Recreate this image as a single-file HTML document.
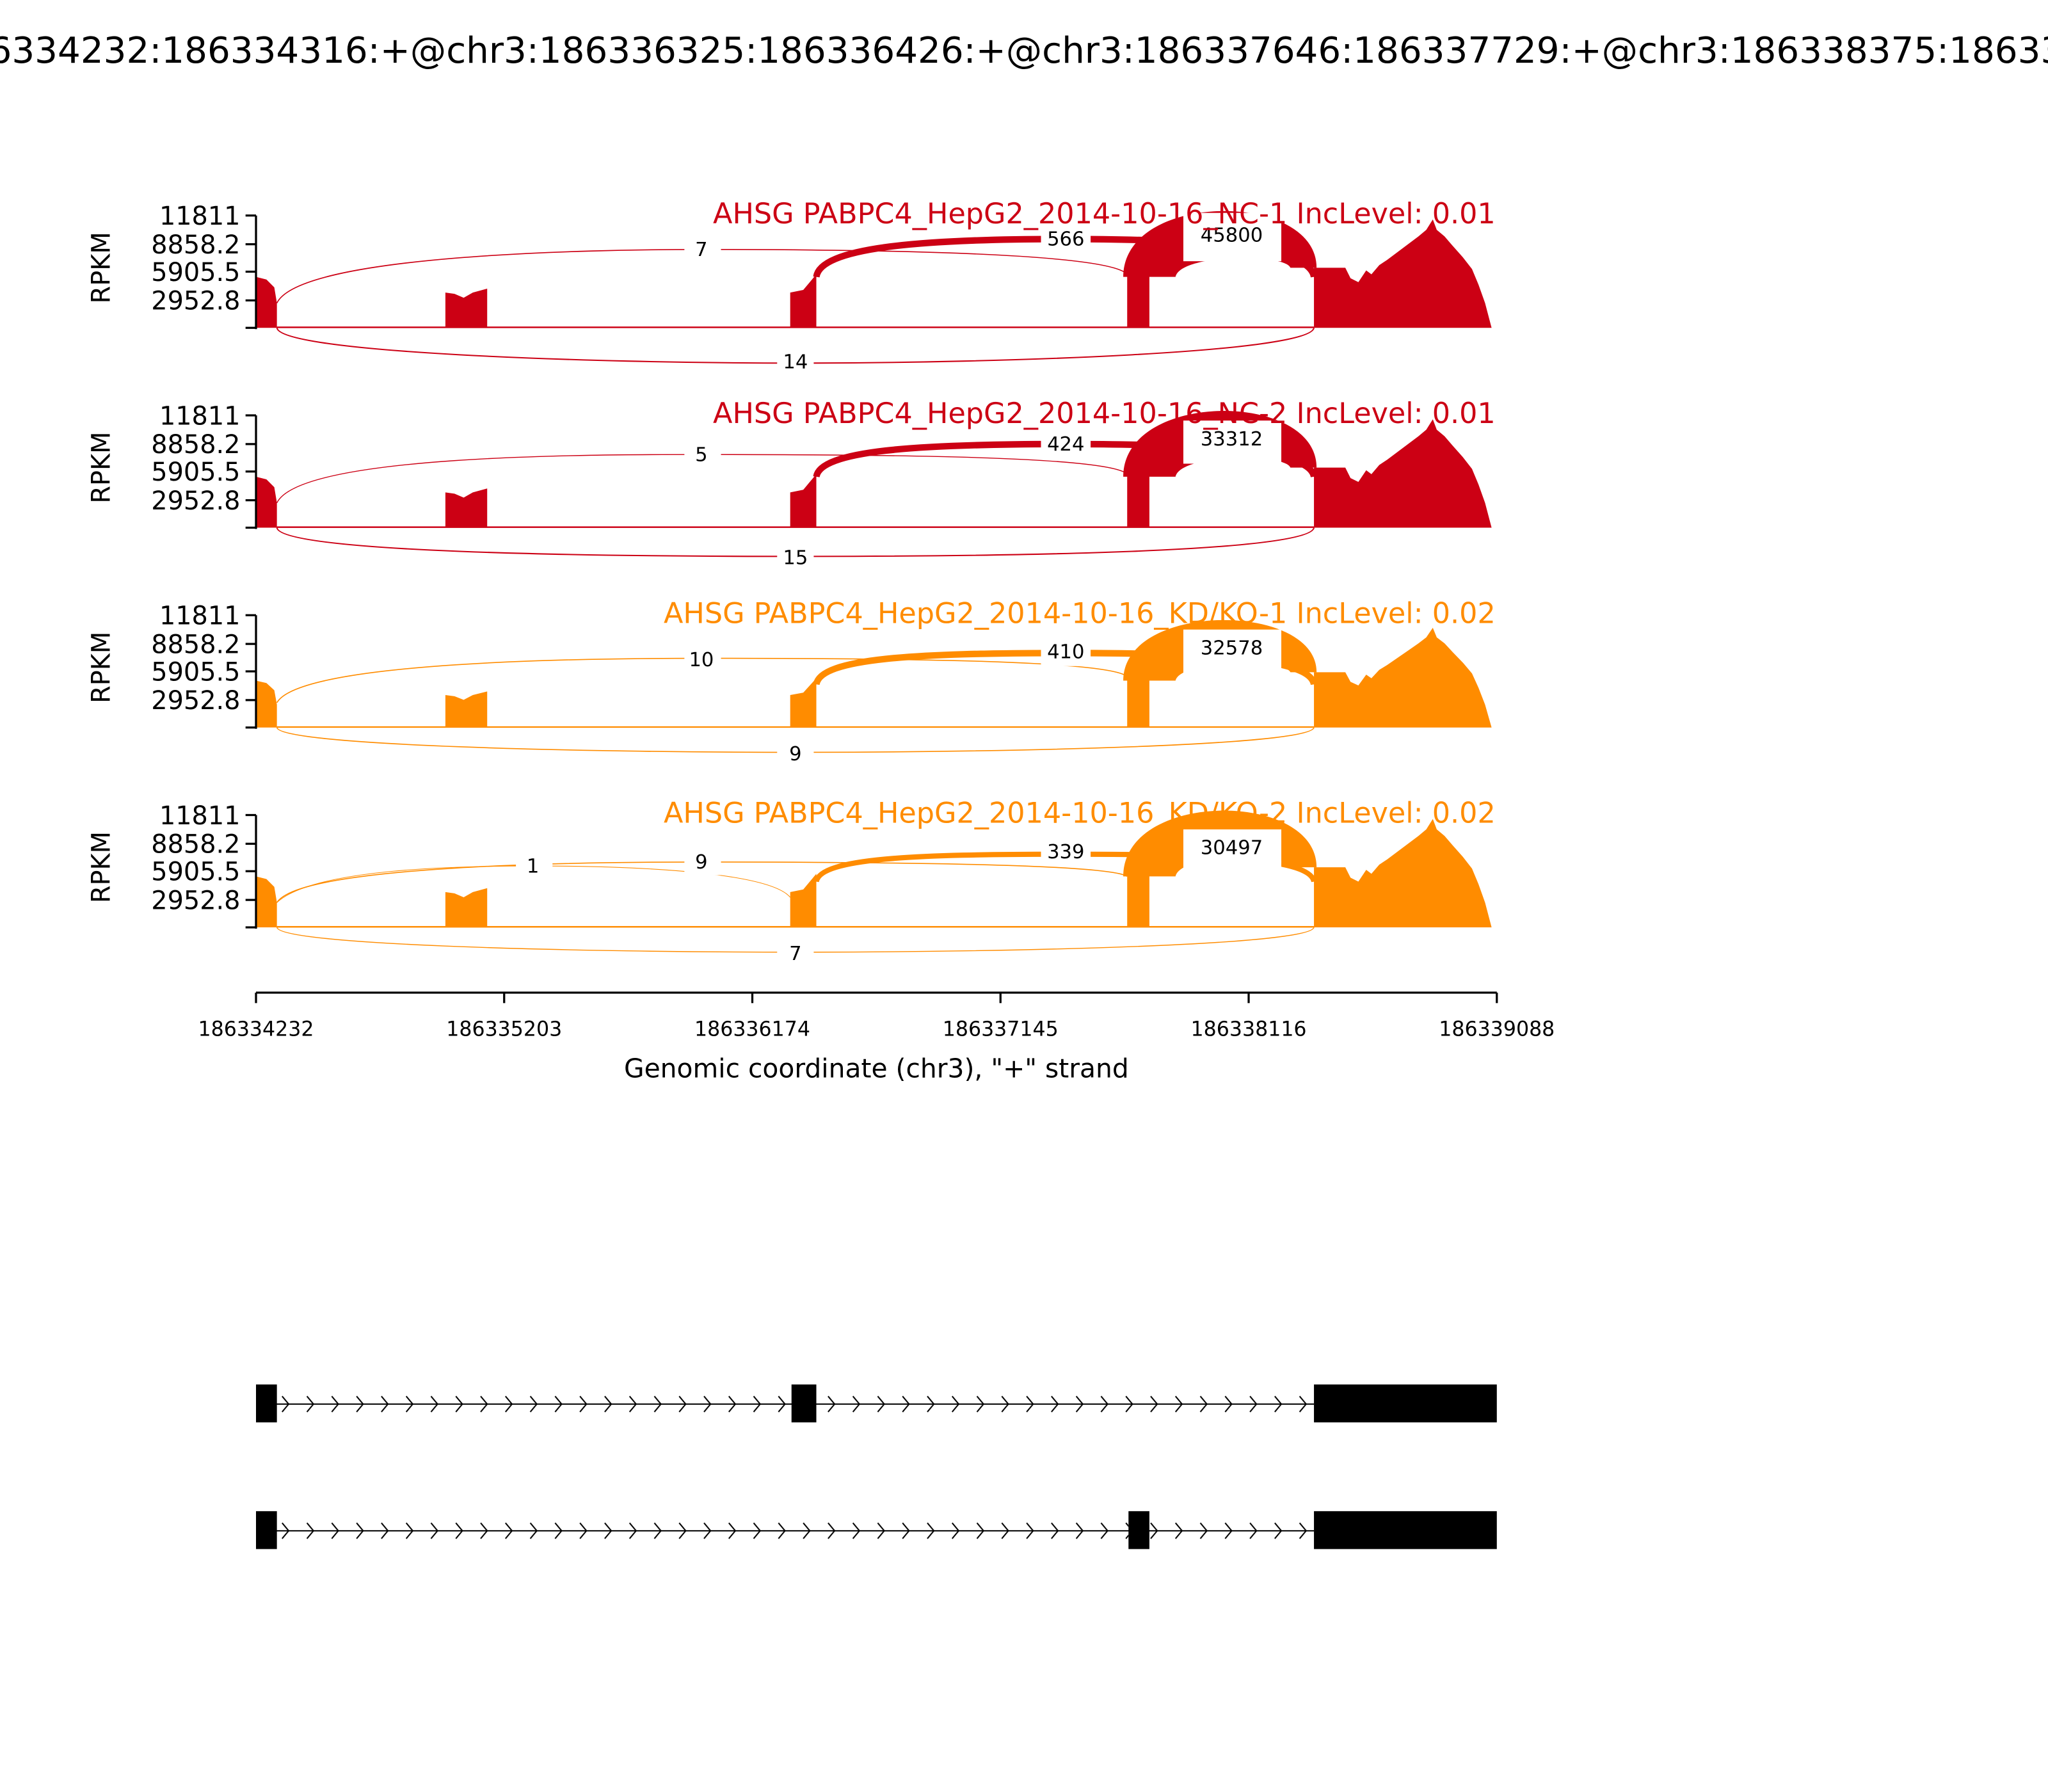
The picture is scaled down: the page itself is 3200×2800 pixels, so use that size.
<!DOCTYPE html>
<html><head><meta charset="utf-8"><style>html,body{margin:0;padding:0;background:#fff}svg{display:block}text{font-family:"DejaVu Sans","Liberation Sans",sans-serif}</style></head>
<body>
<svg width="3200" height="2800" viewBox="0 0 1568 1372" preserveAspectRatio="none" xmlns="http://www.w3.org/2000/svg">
<defs>
<g id="cov">
<path d="M196,251 L196,212 L204,214 L210,220 L212,232 L212,251 Z"/>
<path d="M341,251 L341,224 L348,225 L355,228 L362,224 L373,221 L373,251 Z"/>
<path d="M605,251 L605,224 L615,222 L620,216 L625,210 L625,251 Z"/>
<path d="M863,251 L863,205 L880,205 L880,251 Z"/>
<path d="M1006,251 L1006,205 L1030,205 L1034,213 L1040,216 L1046,207 L1050,210 L1056,203 L1062,199 L1070,193 L1078,187 L1086,181 L1092,176 L1097,168 L1100,176 L1106,181 L1112,188 L1120,197 L1127,206 L1132,218 L1137,232 L1142,251 Z"/>
<rect x="212" y="250" width="794" height="1.2"/>
<path d="M860,212 C860,146 1008,146 1008,205 L988,205 C984,194 904,194 900,212 Z"/>
</g>
<pattern id="chev1" x="212" y="1060" width="19" height="30" patternUnits="userSpaceOnUse">
<path d="M4,9 L9,15 L4,21" fill="none" stroke="#000" stroke-width="1"/>
</pattern>
<pattern id="chev2" x="212" y="1157" width="19" height="30" patternUnits="userSpaceOnUse">
<path d="M4,9 L9,15 L4,21" fill="none" stroke="#000" stroke-width="1"/>
</pattern>
</defs>
<text x="784" y="48" font-size="27.6" text-anchor="middle">chr3:186334232:186334316:+@chr3:186336325:186336426:+@chr3:186337646:186337729:+@chr3:186338375:186339088:+</text>

<g fill="#cc0014" stroke="none">
<use href="#cov"/>
<path d="M212,232 C230,195 450,191 537,191 C700,191 850,195 863,210" fill="none" stroke="#cc0014" stroke-width="0.8"/>
<path d="M625,212 C628,190 700,183 815,183 C930,183 1003,190 1006,212" fill="none" stroke="#cc0014" stroke-width="5"/>
<path d="M212,251 C215,270 450,278 609,278 C770,278 1003,270 1006,251" fill="none" stroke="#cc0014" stroke-width="1"/>
</g>
<g fill="#cc0014" transform="translate(0,153)">
<use href="#cov"/>
<path d="M212,232 C230,195 450,195 537,195 C700,195 850,197 863,210" fill="none" stroke="#cc0014" stroke-width="0.7"/>
<path d="M625,212 C628,192 700,187 815,187 C930,187 1003,192 1006,212" fill="none" stroke="#cc0014" stroke-width="5"/>
<path d="M212,251 C215,270 450,273 609,273 C770,273 1003,270 1006,251" fill="none" stroke="#cc0014" stroke-width="1"/>
</g>
<g fill="#ff8c00" transform="translate(0,306)">
<g transform="translate(0,251) scale(1,0.92) translate(0,-251)"><use href="#cov"/></g>
<path d="M212,232 C230,200 450,198 537,198 C700,198 850,200 863,212" fill="none" stroke="#ff8c00" stroke-width="0.8"/>
<path d="M625,218 C628,198 700,194 815,194 C930,194 1003,198 1006,218" fill="none" stroke="#ff8c00" stroke-width="5"/>
<path d="M212,251 C215,265 450,270 609,270 C770,270 1003,265 1006,251" fill="none" stroke="#ff8c00" stroke-width="0.8"/>
</g>
<g fill="#ff8c00" transform="translate(0,459)">
<use href="#cov"/>
<path d="M212,232 C240,206 350,204 408,204 C500,204 590,210 605,228" fill="none" stroke="#ff8c00" stroke-width="0.5"/>
<path d="M212,232 C230,203 450,201 537,201 C700,201 850,203 863,212" fill="none" stroke="#ff8c00" stroke-width="0.8"/>
<path d="M625,216 C628,198 700,195 815,195 C930,195 1003,198 1006,216" fill="none" stroke="#ff8c00" stroke-width="4"/>
<path d="M212,251 C215,265 450,270 609,270 C770,270 1003,265 1006,251" fill="none" stroke="#ff8c00" stroke-width="0.7"/>
</g>

<g font-size="15" text-anchor="middle">
<rect x="524" y="180" width="28" height="20" fill="#fff"/><text x="537" y="196">7</text>
<rect x="797" y="172" width="38" height="22" fill="#fff"/><text x="816" y="188">566</text>
<rect x="906" y="163" width="75" height="37" fill="#fff"/><text x="943" y="185">45800</text>
<rect x="595" y="266" width="28" height="20" fill="#fff"/><text x="609" y="282">14</text>

<rect x="524" y="337" width="28" height="20" fill="#fff"/><text x="537" y="353">5</text>
<rect x="797" y="329" width="38" height="22" fill="#fff"/><text x="816" y="345">424</text>
<rect x="906" y="322" width="75" height="33" fill="#fff"/><text x="943" y="341">33312</text>
<rect x="595" y="416" width="28" height="20" fill="#fff"/><text x="609" y="432">15</text>

<rect x="524" y="494" width="28" height="20" fill="#fff"/><text x="537" y="510">10</text>
<rect x="797" y="488" width="38" height="22" fill="#fff"/><text x="816" y="504">410</text>
<rect x="906" y="482" width="75" height="33" fill="#fff"/><text x="943" y="501">32578</text>
<rect x="595" y="566" width="28" height="20" fill="#fff"/><text x="609" y="582">9</text>

<rect x="395" y="653" width="28" height="20" fill="#fff"/><text x="408" y="668">1</text>
<rect x="524" y="650" width="28" height="20" fill="#fff"/><text x="537" y="665">9</text>
<rect x="797" y="641" width="38" height="22" fill="#fff"/><text x="816" y="657">339</text>
<rect x="906" y="635" width="75" height="33" fill="#fff"/><text x="943" y="654">30497</text>
<rect x="595" y="719" width="28" height="20" fill="#fff"/><text x="609" y="735">7</text>
</g>

<g font-size="21.8" text-anchor="end">
<text x="1145" y="171" fill="#cc0014">AHSG PABPC4_HepG2_2014-10-16_NC-1 IncLevel: 0.01</text>
<text x="1145" y="324" fill="#cc0014">AHSG PABPC4_HepG2_2014-10-16_NC-2 IncLevel: 0.01</text>
<text x="1145" y="477" fill="#ff8c00">AHSG PABPC4_HepG2_2014-10-16_KD/KO-1 IncLevel: 0.02</text>
<text x="1145" y="630" fill="#ff8c00">AHSG PABPC4_HepG2_2014-10-16_KD/KO-2 IncLevel: 0.02</text>
</g>

<g id="ax" stroke="#000" stroke-width="1.6" fill="none">
<line x1="196" y1="165" x2="196" y2="252"/>
<line x1="188" y1="165" x2="196" y2="165"/><line x1="188" y1="187" x2="196" y2="187"/><line x1="188" y1="208" x2="196" y2="208"/><line x1="188" y1="230" x2="196" y2="230"/><line x1="188" y1="251" x2="196" y2="251"/>
</g>
<g id="axl" font-size="19.5" text-anchor="end">
<text x="184" y="172">11811</text><text x="184" y="194">8858.2</text><text x="184" y="215">5905.5</text><text x="184" y="237">2952.8</text>
<text transform="translate(84,205) rotate(-90)" text-anchor="middle">RPKM</text>
</g>
<use href="#ax" y="153"/><use href="#axl" y="153"/>
<use href="#ax" y="306"/><use href="#axl" y="306"/>
<use href="#ax" y="459"/><use href="#axl" y="459"/>

<g stroke="#000" stroke-width="1.6">
<line x1="196" y1="760" x2="1146" y2="760"/>
<line x1="196" y1="760" x2="196" y2="768"/><line x1="386" y1="760" x2="386" y2="768"/><line x1="576" y1="760" x2="576" y2="768"/><line x1="766" y1="760" x2="766" y2="768"/><line x1="956" y1="760" x2="956" y2="768"/><line x1="1146" y1="760" x2="1146" y2="768"/>
</g>
<g font-size="15.5" text-anchor="middle">
<text x="196" y="793">186334232</text><text x="386" y="793">186335203</text><text x="576" y="793">186336174</text><text x="766" y="793">186337145</text><text x="956" y="793">186338116</text><text x="1146" y="793">186339088</text>
</g>
<text x="671" y="825" font-size="20" text-anchor="middle">Genomic coordinate (chr3), "+" strand</text>

<g>
<line x1="196" y1="1075" x2="1006" y2="1075" stroke="#000" stroke-width="1"/>
<rect x="212" y="1060" width="394" height="30" fill="url(#chev1)"/>
<rect x="625" y="1060" width="381" height="30" fill="url(#chev1)"/>
<rect x="196" y="1060" width="16" height="29"/><rect x="606" y="1060" width="19" height="29"/><rect x="1006" y="1060" width="140" height="29"/>
<line x1="196" y1="1172" x2="1006" y2="1172" stroke="#000" stroke-width="1"/>
<rect x="212" y="1157" width="652" height="30" fill="url(#chev2)"/>
<rect x="880" y="1157" width="126" height="30" fill="url(#chev2)"/>
<rect x="196" y="1157" width="16" height="29"/><rect x="864" y="1157" width="16" height="29"/><rect x="1006" y="1157" width="140" height="29"/>
</g>
</svg>
</body></html>
